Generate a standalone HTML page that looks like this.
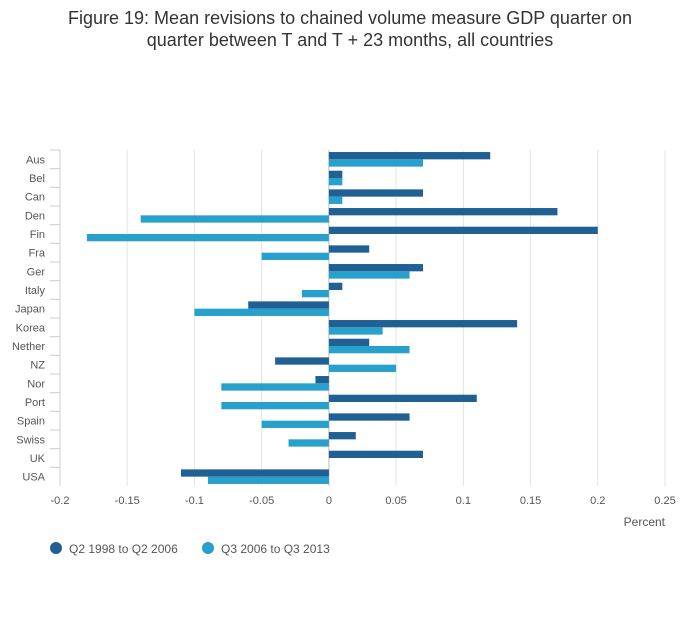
<!DOCTYPE html>
<html><head><meta charset="utf-8"><style>
body{margin:0;background:#fff;font-family:"Liberation Sans",sans-serif;}
svg text{font-family:"Liberation Sans",sans-serif;}
</style></head><body>
<svg id="c" width="700" height="635" xmlns="http://www.w3.org/2000/svg">
<text x="350" y="24" text-anchor="middle" font-size="18" fill="#333">Figure 19: Mean revisions to chained volume measure GDP quarter on</text>
<text x="350" y="46" text-anchor="middle" font-size="18" fill="#333">quarter between T and T + 23 months, all countries</text>
<g id="grid"></g><g id="bars"></g><g id="axes"></g>
<text x="665" y="526" text-anchor="end" font-size="12" fill="#555">Percent</text>
<g>
<circle cx="56" cy="548" r="6" fill="#206095"/>
<text x="69" y="553" font-size="12" fill="#555">Q2 1998 to Q2 2006</text>
<circle cx="208" cy="548" r="6" fill="#27a0cc"/>
<text x="221" y="553" font-size="12" fill="#555">Q3 2006 to Q3 2013</text>
</g>
</svg>
<script>
const categories=["Aus","Bel","Can","Den","Fin","Fra","Ger","Italy","Japan","Korea","Nether","NZ","Nor","Port","Spain","Swiss","UK","USA"];
const series1=[0.12,0.01,0.07,0.17,0.20,0.03,0.07,0.01,-0.06,0.14,0.03,-0.04,-0.01,0.11,0.06,0.02,0.07,-0.11];
const series2=[0.07,0.01,0.01,-0.14,-0.18,-0.05,0.06,-0.02,-0.10,0.04,0.06,0.05,-0.08,-0.08,-0.05,-0.03,0,-0.09];
const xTicks=[-0.2,-0.15,-0.1,-0.05,0,0.05,0.1,0.15,0.2,0.25];
const xTickLabels=["-0.2","-0.15","-0.1","-0.05","0","0.05","0.1","0.15","0.2","0.25"];
const NS="http://www.w3.org/2000/svg";
const x0=60,x1=665,yTop=150,yBot=486;
const xs=v=>x0+(v+0.2)/0.45*(x1-x0);
const band=(yBot-yTop)/categories.length;
const ys=i=>yTop+band*(i+0.5);
function mk(t,a,p){const e=document.createElementNS(NS,t);for(const k in a)e.setAttribute(k,a[k]);document.getElementById(p).appendChild(e);return e;}
xTicks.forEach((t,i)=>{
 const g=mk("line",{x1:xs(t),x2:xs(t),y1:yTop,y2:yBot,stroke:t===0?"#bbb":"#e4e4e4","stroke-width":1},"grid");
 
 
 const l=mk("text",{x:xs(t),y:504,"text-anchor":"middle","font-size":11,fill:"#555"},"axes");
 l.textContent=xTickLabels[i];
 
 
});
const ax=mk("line",{x1:x0,x2:x0,y1:yTop,y2:yBot,stroke:"#ccc"},"axes");


categories.forEach((c,i)=>{
 const tk=mk("line",{x1:50,x2:x0,y1:yTop+band*i,y2:yTop+band*i,stroke:"#ccc"},"axes");
 
 
 const l=mk("text",{x:45,y:ys(i)+4,"text-anchor":"end","font-size":11,fill:"#555"},"axes");
 l.textContent=c;
 
 
 const h=7.3;
 const a=series1[i],b=series2[i];
 const r1=mk("rect",{x:Math.min(xs(0),xs(a)),y:ys(i)-h,width:Math.abs(xs(a)-xs(0)),height:h,fill:"#206095"},"bars");
 
 
 const r2=mk("rect",{x:Math.min(xs(0),xs(b)),y:ys(i),width:Math.abs(xs(b)-xs(0)),height:h,fill:"#27a0cc"},"bars");
 
 
});
</script>
</body></html>
